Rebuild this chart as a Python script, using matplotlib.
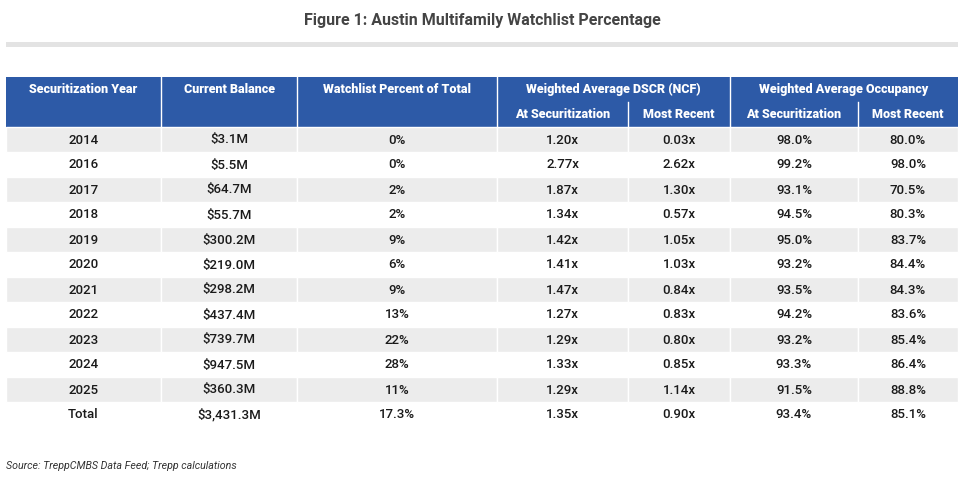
"""
    Austin multifamily watchlist table (Figure 1).
"""

import matplotlib.pyplot as plt
from matplotlib.patches import Rectangle

years = ["2014", "2016", "2017", "2018", "2019", "2020", "2021", "2022", "2023", "2024", "2025", "Total"]
balance = ["$3.1M", "$5.5M", "$64.7M", "$55.7M", "$300.2M", "$219.0M", "$298.2M", "$437.4M",
           "$739.7M", "$947.5M", "$360.3M", "$3,431.3M"]
watch_pct = ["0%", "0%", "2%", "2%", "9%", "6%", "9%", "13%", "22%", "28%", "11%", "17.3%"]
dscr_sec = ["1.20x", "2.77x", "1.87x", "1.34x", "1.42x", "1.41x", "1.47x", "1.27x", "1.29x", "1.33x", "1.29x", "1.35x"]
dscr_recent = ["0.03x", "2.62x", "1.30x", "0.57x", "1.05x", "1.03x", "0.84x", "0.83x", "0.80x", "0.85x", "1.14x", "0.90x"]
occ_sec = ["98.0%", "99.2%", "93.1%", "94.5%", "95.0%", "93.2%", "93.5%", "94.2%", "93.2%", "93.3%", "91.5%", "93.4%"]
occ_recent = ["80.0%", "98.0%", "70.5%", "80.3%", "83.7%", "84.4%", "84.3%", "83.6%", "85.4%", "86.4%", "88.8%", "85.1%"]

main_headers = ["Securitization Year", "Current Balance", "Watchlist Percent of Total"]
group_headers = ["Weighted Average DSCR (NCF)", "Weighted Average Occupancy"]
sub_headers = ["At Securitization", "Most Recent", "At Securitization", "Most Recent"]

TITLE = "Figure 1: Austin Multifamily Watchlist Percentage"
SOURCE = "Source: TreppCMBS Data Feed; Trepp calculations"

BLUE = "#2d5aa7"
GRAY = "#ececec"

plt.rcParams['font.family'] = ['Roboto', 'DejaVu Sans']

fig = plt.figure(figsize=(9.68, 4.79), dpi=100)
ax = fig.add_axes([0, 0, 1, 1])
ax.set_xlim(0, 968)
ax.set_ylim(479, 0)
ax.axis("off")

# column edges in pixels
edges = [6, 161, 297, 497, 628, 730, 858, 958]
head_top, head_mid, head_bot = 77, 102, 127
row_h = 25

ax.text(482, 20, TITLE, ha="center", va="center", fontsize=11.5, fontweight="bold", color="#444444")
ax.add_patch(Rectangle((6, 42), 952, 5, color="#e3e3e3", lw=0))

# header block
ax.add_patch(Rectangle((edges[0], head_top), edges[-1] - edges[0], head_bot - head_top, color=BLUE, lw=0))
for x in edges[1:-1]:
    y0 = head_mid if x in (edges[4], edges[6]) else head_top
    ax.plot([x, x], [y0, head_bot], color="white", lw=1)

head_kw = dict(ha="center", va="center", fontsize=9, fontweight="black", color="white")
for i, label in enumerate(main_headers):
    ax.text((edges[i] + edges[i + 1]) / 2, 89, label, **head_kw)
for i, label in enumerate(group_headers):
    ax.text((edges[3 + 2 * i] + edges[5 + 2 * i]) / 2, 89, label, **head_kw)
for i, label in enumerate(sub_headers):
    ax.text((edges[3 + i] + edges[4 + i]) / 2, 114, label, **head_kw)

# body rows
columns = [years, balance, watch_pct, dscr_sec, dscr_recent, occ_sec, occ_recent]
for r in range(len(years)):
    top = head_bot + r * row_h
    if r % 2 == 0 and years[r] != "Total":
        for c in range(len(columns)):
            ax.add_patch(Rectangle((edges[c], top), edges[c + 1] - edges[c], row_h,
                                   facecolor=GRAY, edgecolor="white", lw=1))
    for c, col in enumerate(columns):
        ax.text((edges[c] + edges[c + 1]) / 2, top + row_h / 2 + 0.5, col[r], ha="center", va="center",
                fontsize=9.5, fontweight="medium", color="#1a1a1a")

ax.text(6, 466, SOURCE, ha="left", va="center", fontsize=7.7, style="italic", color="#333333")

plt.savefig("out.png", dpi=100)
